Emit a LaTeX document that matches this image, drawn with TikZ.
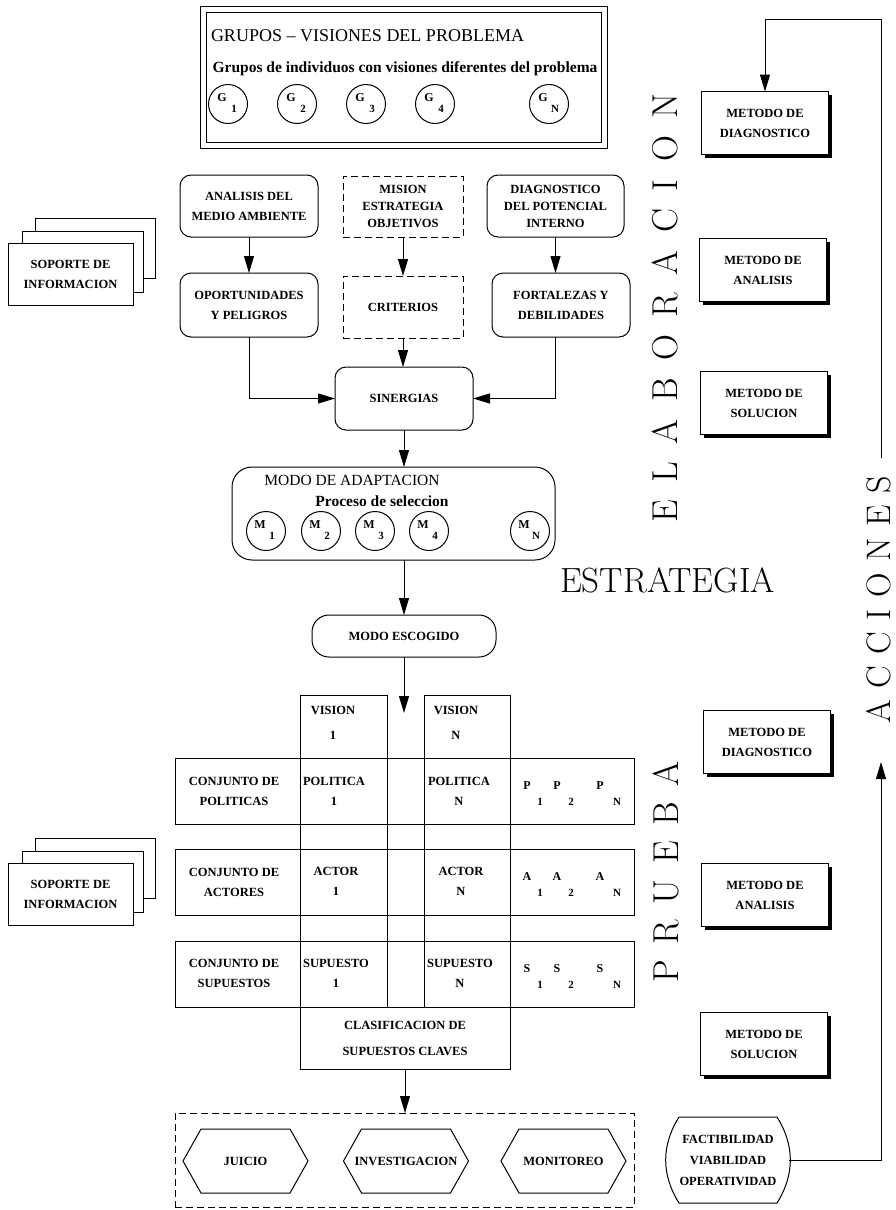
\documentclass[tikz,border=0pt]{standalone}
\usepackage{fontspec}
\usetikzlibrary{arrows.meta,calc,shadows}
\newfontfamily\lblfamily[Ligatures=TeX]{Liberation Serif}

\newcommand\lblfont{\lblfamily\bfseries\fontsize{12.5}{20}\selectfont}
\newcommand\subfont{\lblfamily\bfseries\fontsize{12}{12}\selectfont}
\newcommand\idxfont{\lblfamily\bfseries\fontsize{11}{11}\selectfont}
\newcommand\headfont{\lblfamily\fontsize{18}{20}\selectfont}
\newcommand\modefont{\lblfamily\fontsize{15.5}{18}\selectfont}
\newcommand\lowfont{\lblfamily\bfseries\fontsize{15.5}{16}\selectfont}
\newcommand\bigfont{\fontsize{36}{36}\selectfont}
\newcommand\elgap{\hspace{17.5pt}}
\newcommand\prgap{\hspace{15.6pt}}
\newcommand\acgap{\hspace{11.5pt}}

\begin{document}
\begin{tikzpicture}[x=1pt,y=-1pt,
  every node/.style={inner sep=0pt, outer sep=0pt},
  lw/.style={line width=1pt},
  arr/.style={line width=1pt, -{Triangle[length=17pt,width=10pt]}},
  sz/.style 2 args={minimum width=#1pt, minimum height=#2pt},
  lbl/.style={font=\lblfont, align=center},
  rbox/.style={lbl, draw, lw, rounded corners=11pt},
  dbox/.style={lbl, draw, lw, dash pattern=on 7pt off 4pt},
  pbox/.style={lbl, draw, lw, fill=white},
  cell/.style={draw, lw},
  sbox/.style={lbl, draw, lw, fill=white, sz={127}{63},
    drop shadow={shadow xshift=3.5pt, shadow yshift=-3.5pt, fill=black, opacity=1}},
  circ/.style={circle, draw, lw, minimum size=39pt},
]
\useasboundingbox (0,0) rectangle (895,1210);

% ---------- groups with different views ----------
\node[draw, lw, sz={395}{130}] (grp) at (403.5,77) {};
\draw[lw] ([shift={(-6,-6)}]grp.north west) rectangle ([shift={(6,6)}]grp.south east);
\node[font=\headfont, anchor=west] (grpT) at (211,36) {GRUPOS -- VISIONES DEL PROBLEMA};
\node[font=\lowfont] (grpS) at (405,69) {Grupos de individuos con visiones diferentes del problema};
\foreach \n/\x/\s in {1/228/1, 2/297/2, 3/366/3, 4/435/4, 5/549/N}{
  \node[circ] (g\n) at (\x,104) {};
  \node[font=\subfont] (g\n a) at ($(g\n)+(-6,-6)$) {G};
  \node[font=\idxfont] (g\n b) at ($(g\n)+(6,5)$) {\s};
}

% ---------- information support (upper) ----------
\node[pbox, sz={120}{60}] (sopA3) at (95,248) {};
\node[pbox, sz={121}{61}] (sopA2) at (82.5,261.5) {};
\node[pbox, sz={125}{62}] (sopA1) at (70.5,274) {SOPORTE DE\\INFORMACION};

% ---------- environment / mission / internal ----------
\node[rbox, sz={138}{62}] (ana) at (249,206) {ANALISIS DEL\\MEDIO AMBIENTE};
\node[dbox, sz={120}{61}] (mis) at (403,206.5) {MISION\\[-3pt]ESTRATEGIA\\[-3pt]OBJETIVOS};
\node[rbox, sz={137}{62}] (dia) at (555.5,206) {DIAGNOSTICO\\[-3pt]DEL POTENCIAL\\[-3pt]INTERNO};
\node[rbox, sz={138}{64}] (opo) at (249,305) {OPORTUNIDADES\\Y PELIGROS};
\node[dbox, sz={120}{62}] (cri) at (403,307) {CRITERIOS};
\node[rbox, sz={138}{64}] (fort) at (561,305) {FORTALEZAS Y\\DEBILIDADES};
\node[rbox, sz={138}{63}] (sin) at (404,398.5) {SINERGIAS};

\draw[arr] (ana) -- (ana.south |- opo.north);
\draw[arr] (mis) -- (mis.south |- cri.north);
\draw[arr] (dia.south) -- (dia.south |- fort.north);
\draw[arr] (cri.south) -- (cri.south |- sin.north);
\draw[arr] (opo.south) |- (sin.west);
\draw[arr] (fort.south -| dia.south) |- (sin.east);

% ---------- adaptation modes ----------
\node[draw, lw, rounded corners=20pt, sz={323}{93}] (ada) at (393.5,513.5) {};
\node[font=\modefont] (adaT) at (352,480) {MODO DE ADAPTACION};
\node[font=\lowfont] (adaS) at (382,501) {Proceso de seleccion};
\foreach \n/\x/\s in {1/266/1, 2/321/2, 3/375/3, 4/429/4, 5/530/N}{
  \node[circ] (m\n) at (\x,531) {};
  \node[font=\subfont] (m\n a) at ($(m\n)+(-6,-6)$) {M};
  \node[font=\idxfont] (m\n b) at ($(m\n)+(6,5)$) {\s};
}
\draw[arr] (sin.south) -- (sin.south |- ada.north);

\node[lbl, draw, lw, rounded corners=17pt, sz={184}{42}] (esc) at (404,636) {MODO ESCOGIDO};
\draw[arr] (esc.north |- ada.south) -- (esc.north);
\coordinate (escEnd) at (404,713);
\draw[arr] (esc.south) -- (escEnd);

% ---------- matrix of visions ----------
\node[cell, sz={459}{66}] (pol) at (404.5,791) {};
\node[cell, sz={459}{66}] (act) at (404.5,882) {};
\node[cell, sz={459}{66}] (sup) at (404.5,974) {};
\node[cell, sz={87}{312}] (c1) at (343.5,851) {};
\node[cell, sz={86}{312}] (cN) at (467,851) {};
\node[lbl, draw, lw, sz={210}{62}] (cla) at (405,1038) {CLASIFICACION DE\\[6pt]SUPUESTOS CLAVES};

\node[lbl] (v1) at (333,723) {VISION\\[5pt]1};
\node[lbl] (vN) at (456,723) {VISION\\[5pt]N};
\node[lbl] (pol1) at (334,791) {POLITICA\\1};
\node[lbl] (polN) at (459,791) {POLITICA\\N};
\node[lbl] (act1) at (336,881) {ACTOR\\1};
\node[lbl] (actN) at (461,881) {ACTOR\\N};
\node[lbl] (sup1) at (336,973) {SUPUESTO\\1};
\node[lbl] (supN) at (460,973) {SUPUESTO\\N};
\node[lbl] (polL) at (234,791) {CONJUNTO DE\\POLITICAS};
\node[lbl] (actL) at (234,882) {CONJUNTO DE\\ACTORES};
\node[lbl] (supL) at (234,973) {CONJUNTO DE\\SUPUESTOS};

\foreach \r/\L/\y in {pol/P/791, act/A/882, sup/S/974}{
  \foreach \k/\x/\sx/\s in {1/527/540/1, 2/557/571/2, 3/600/617/N}{
    \node[font=\subfont] (\r m\k) at (\x,\y-5) {\L};
    \node[font=\idxfont] (\r i\k) at (\sx,\y+11) {\s};
  }
}

% ---------- information support (lower) ----------
\node[pbox, sz={120}{60}] (sopB3) at (95,868) {};
\node[pbox, sz={121}{61}] (sopB2) at (82.5,881.5) {};
\node[pbox, sz={125}{62}] (sopB1) at (70.5,894) {SOPORTE DE\\INFORMACION};

% ---------- key assumptions treatment ----------
\node[draw, lw, dash pattern=on 7pt off 4pt, sz={459}{94}] (opt) at (404.5,1160) {};
\draw[arr] (cla.south) -- (cla.south |- opt.north);
\newcommand\hexnode[3]{%
  \node[lbl, sz={125}{64}] (#1) at (#2,1161) {#3};
  \draw[lw] (#1.west) -- ($(#1.north west)+(18,0)$) -- ($(#1.north east)+(-18,0)$)
    -- (#1.east) -- ($(#1.south east)+(-18,0)$) -- ($(#1.south west)+(18,0)$) -- cycle;}
\hexnode{jui}{245.5}{JUICIO}
\hexnode{inv}{406}{INVESTIGACION}
\hexnode{mon}{563.5}{MONITOREO}

% ---------- methods ----------
\node[sbox] (dg1) at (765,123) {METODO DE\\DIAGNOSTICO};
\node[sbox] (an1) at (763,270) {METODO DE\\ANALISIS};
\node[sbox] (so1) at (764,403) {METODO DE\\SOLUCION};
\node[sbox] (dg2) at (767,742) {METODO DE\\DIAGNOSTICO};
\node[sbox] (an2) at (765,895) {METODO DE\\ANALISIS};
\node[sbox] (so2) at (764,1044) {METODO DE\\SOLUCION};

% ---------- feasibility and feedback loop ----------
\node[lbl, sz={98}{86}] (fac) at (728,1160) {FACTIBILIDAD\\[1pt]VIABILIDAD\\[1pt]OPERATIVIDAD};
\draw[lw] (fac.north west) -- (fac.north east) to[bend left=32] (fac.south east)
  -- (fac.south west) to[bend left=32] (fac.north west);
\coordinate (facR) at ($(fac.east)+(12,0)$);

\node[rotate=90, font=\fontsize{34}{34}\selectfont] (acc) at (879,600)
  {A\acgap C\acgap C\acgap I\acgap O\acgap N\acgap E\acgap S};
\coordinate (accTip) at (881,762);
\coordinate (accTop) at (881,458);
\draw[arr] (facR) -| (accTip);
\draw[arr] (accTop) |- ($(dg1.north)+(0,-72)$) -- (dg1.north);

% ---------- phase labels ----------
\node[rotate=90, font=\bigfont] (elab) at (665,308)
  {E\elgap L\elgap A\elgap B\elgap O\elgap R\elgap A\elgap C\elgap I\elgap O\elgap N};
\node[rotate=90, font=\bigfont] (prue) at (666,872)
  {P\prgap R\prgap U\prgap E\prgap B\prgap A};
\node[font=\fontsize{35}{35}\selectfont, anchor=base west] (estr) at (560,592) {ESTRATEGIA};

\end{tikzpicture}
\end{document}
